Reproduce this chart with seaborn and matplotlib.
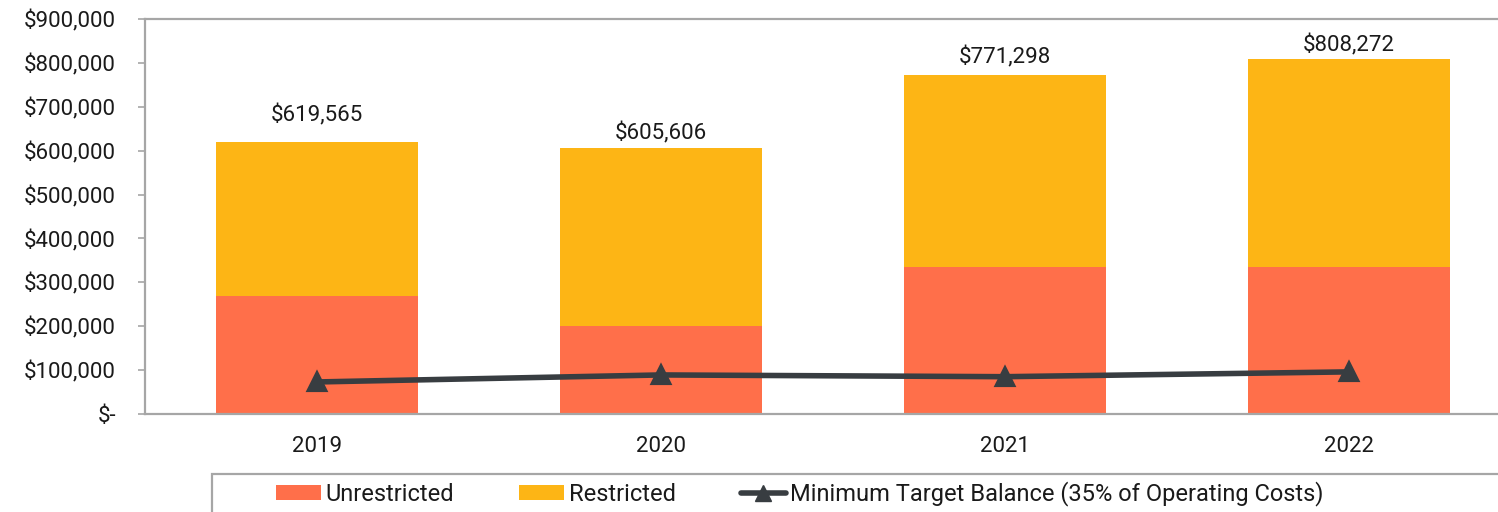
import numpy as np
import seaborn as sns
import matplotlib.pyplot as plt
from matplotlib.patches import Patch, Rectangle
from matplotlib.lines import Line2D
from matplotlib.ticker import FuncFormatter, FixedLocator

# values
years = ['2019', '2020', '2021', '2022']
unrestricted = [269000, 200000, 334000, 334000]
totals = [619565, 605606, 771298, 808272]
restricted = [t - u for t, u in zip(totals, unrestricted)]
min_target = [73000, 89000, 85000, 96000]

# gap (points) between bar top and its total label, as placed in the original
label_gaps = [15, 6.5, 8.6, 5.5]

UNRES_COLOR = '#FF6F4A'
RES_COLOR = '#FDB515'
LINE_COLOR = '#383D41'
AXIS_GRAY = '#A6A6A6'
TEXT_COLOR = '#1A1A1A'

sns.set_style('white')
plt.rcParams['font.family'] = ['Roboto', 'DejaVu Sans']
plt.rcParams['font.size'] = 16

W, H = 1498, 512
fig = plt.figure(figsize=(W / 100, H / 100), dpi=100)
ax = fig.add_axes([145 / W, 1 - 414 / H, (1521 - 145) / W, (414 - 19) / H])

# stacked bars: total in restricted colour, unrestricted drawn over the bottom part
sns.barplot(x=years, y=totals, color=RES_COLOR, width=0.59, linewidth=0,
            saturation=1, ax=ax)
sns.barplot(x=years, y=unrestricted, color=UNRES_COLOR, width=0.59, linewidth=0,
            saturation=1, ax=ax)
sns.pointplot(x=years, y=min_target, color=LINE_COLOR, marker='^',
              markersize=11, linewidth=4, ax=ax)

# total labels above bars
for i, t in enumerate(totals):
    ax.annotate(f'${t:,.0f}', (i, t), xytext=(0, label_gaps[i]), textcoords='offset points',
                ha='center', va='baseline', fontsize=16, color=TEXT_COLOR)

ax.set_xlim(-0.5, 3.5)
ax.set_ylim(0, 900000)
ax.set_yticks(np.arange(0, 900001, 100000))
ax.yaxis.set_major_formatter(FuncFormatter(lambda v, p: '$-' if v == 0 else f'${v:,.0f}'))

ax.xaxis.set_minor_locator(FixedLocator([-0.5, 0.5, 1.5, 2.5, 3.5]))
ax.tick_params(axis='x', which='major', length=0, pad=16, labelsize=16, labelcolor=TEXT_COLOR)
ax.tick_params(axis='x', which='minor', length=5, width=1.2, color=AXIS_GRAY, direction='out')
ax.tick_params(axis='y', length=5, width=1.2, color=AXIS_GRAY, direction='out',
               pad=16, labelsize=16, labelcolor=TEXT_COLOR, left=True)
ax.set_xlabel('')
ax.set_ylabel('')

for side in ['left', 'bottom', 'top']:
    ax.spines[side].set_visible(True)
    ax.spines[side].set_color(AXIS_GRAY)
    ax.spines[side].set_linewidth(1.6)
ax.spines['right'].set_visible(False)

# legend box (cropped at bottom/right like the reference)
fig.patches.append(Rectangle((212 / W, -0.2), 1.0, 0.2 + (1 - 474 / H),
                             transform=fig.transFigure, fill=False,
                             edgecolor=AXIS_GRAY, linewidth=1.6))

handles = [
    Patch(facecolor=UNRES_COLOR, edgecolor='none'),
    Patch(facecolor=RES_COLOR, edgecolor='none'),
    Line2D([], [], color=LINE_COLOR, marker='^', linewidth=4, markersize=11),
]
labels = ['Unrestricted', 'Restricted', 'Minimum Target Balance (35% of Operating Costs)']
fig.legend(handles, labels, loc='center left', bbox_to_anchor=(276 / W, 1 - 494 / H),
           ncol=3, frameon=False, borderpad=0, borderaxespad=0, fontsize=17,
           handlelength=1.9, handleheight=0.55, handletextpad=0.2, columnspacing=2.75,
           labelcolor=TEXT_COLOR)

fig.savefig('out.png', dpi=100)
